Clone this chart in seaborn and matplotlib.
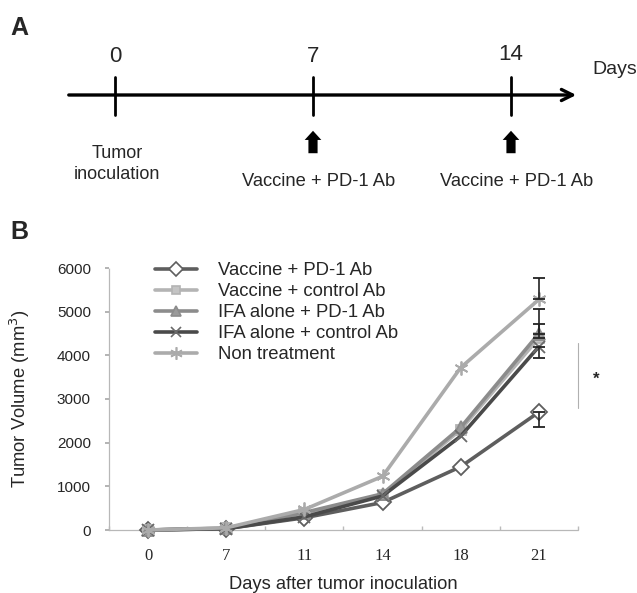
import numpy as np
import pandas as pd
import matplotlib
matplotlib.use("Agg")
import matplotlib.pyplot as plt
from matplotlib.lines import Line2D
import seaborn as sns

sns.set_theme(style="white")
plt.rcParams['font.family'] = ['Liberation Sans', 'DejaVu Sans']

# ---------------- data ----------------
days = [0, 7, 11, 14, 18, 21]
groups = ["Vaccine + PD-1 Ab", "Vaccine + control Ab", "IFA alone + PD-1 Ab",
          "IFA alone + control Ab", "Non treatment"]
vac_pd1 = [0, 30, 280, 630, 1450, 2700]
vac_ctrl = [0, 40, 380, 800, 2300, 4400]
ifa_pd1 = [0, 40, 400, 830, 2350, 4500]
ifa_ctrl = [0, 30, 300, 780, 2150, 4200]
non_treat = [0, 50, 470, 1230, 3720, 5280]
# error bars at day 21 (one-sided, as drawn): (down, up)
err21_down = [340, 0, 0, 270, 0]
err21_up = [0, 320, 560, 0, 490]
timeline_days = [0, 7, 14]

series = [vac_pd1, vac_ctrl, ifa_pd1, ifa_ctrl, non_treat]
rows = []
for g, vals in zip(groups, series):
    for i, (d, v) in enumerate(zip(days, vals)):
        rows.append({"group": g, "pos": i, "day": d, "volume": v})
df = pd.DataFrame(rows)

styles = {
    "Vaccine + PD-1 Ab": dict(color="#5e5e5e", marker="D", mfc="white", mec="#5e5e5e", ms=8),
    "Vaccine + control Ab": dict(color="#b4b4b4", marker="s", mfc="#c4c4c4", mec="#b4b4b4", ms=7),
    "IFA alone + PD-1 Ab": dict(color="#8c8c8c", marker="^", mfc="#9a9a9a", mec="#8c8c8c", ms=8),
    "IFA alone + control Ab": dict(color="#4a4a4a", marker="x", mfc="#4a4a4a", mec="#6a6a6a", ms=8),
    "Non treatment": dict(color="#ababab", marker=(6, 2, 0), mfc="#ababab", mec="#ababab", ms=10),
}

fig = plt.figure(figsize=(6.37, 5.93), dpi=100)

# ---------------- panel A ----------------
axA = fig.add_axes([0, 0, 1, 1], zorder=0)
axA.set_xlim(0, 637)
axA.set_ylim(593, 0)
axA.axis("off")
x0, xstep = 115, 198 / 7.0
axA.annotate("", xy=(579, 95), xytext=(66, 95),
             arrowprops=dict(arrowstyle="->", lw=2.4, color="black", mutation_scale=20))
for d in timeline_days:
    xp = x0 + d * xstep
    axA.plot([xp, xp], [77, 115], color="black", lw=2)
    axA.text(xp, 67 if d < 10 else 65, str(d), ha="center", va="bottom", fontsize=16)
axA.text(592, 70, "Days", ha="left", va="center", fontsize=14)
axA.text(x0 + 2, 164, "Tumor\ninoculation", ha="center", va="center", fontsize=13, linespacing=1.25)
for d in timeline_days[1:]:
    xp = x0 + d * xstep
    axA.annotate("", xy=(xp, 128), xytext=(xp, 156),
                 arrowprops=dict(arrowstyle="simple,head_length=0.55,head_width=1.0,tail_width=0.55",
                                 color="black", lw=0))
    axA.text(xp + 6, 181, "Vaccine + PD-1 Ab", ha="center", va="center", fontsize=13.2)
axA.text(10, 28, "A", ha="left", va="center", fontsize=18, fontweight="bold")
axA.text(10, 232, "B", ha="left", va="center", fontsize=18, fontweight="bold")

# ---------------- panel B ----------------
ax = fig.add_axes([109 / 637, 1 - 530 / 593, (578 - 109) / 637, (530 - 268) / 593], zorder=1)
ax.patch.set_alpha(0)
for g in groups:
    st = styles[g]
    sub = df[df.group == g]
    sns.lineplot(data=sub, x="pos", y="volume", ax=ax, color=st["color"], lw=2.6,
                 marker=st["marker"], markerfacecolor=st["mfc"], markeredgecolor=st["mec"],
                 markersize=st["ms"], markeredgewidth=1.3, label=g, legend=False,
                 zorder=3, clip_on=False)
for i, g in enumerate(groups):
    lo, hi = err21_down[i], err21_up[i]
    if lo == 0 and hi == 0:
        continue
    yv = series[i][-1]
    ax.errorbar([len(days) - 1], [yv], yerr=[[lo], [hi]], fmt="none", ecolor="#222222",
                elinewidth=1.2, capsize=4, capthick=1.3, zorder=4)

ax.set_xlim(-0.5, len(days) - 0.5)
ax.set_ylim(0, 6000)
ax.set_yticks(np.arange(0, 6001, 1000))
ax.set_xticks(range(len(days)))
ax.set_xticklabels([str(d) for d in days], fontsize=12, family="Liberation Serif")
ax.set_xticks(np.arange(-0.5, len(days)), minor=True)
ax.tick_params(axis="y", labelsize=11, length=3, color="#aaaaaa", pad=10, left=True)
ax.tick_params(axis="x", which="major", length=0, pad=13)
ax.tick_params(axis="x", which="minor", length=3, color="#bbbbbb", direction="in", bottom=True)
ax.set_xlabel("Days after tumor inoculation", fontsize=13.2)
ax.xaxis.set_label_coords(0.5, -0.175)
ax.set_ylabel("Tumor Volume (mm$^3$)", fontsize=13.2)
ax.yaxis.set_label_coords(-0.165, 0.5)
for side in ["top", "right"]:
    ax.spines[side].set_visible(False)
for side in ["left", "bottom"]:
    ax.spines[side].set_color("#b8b8b8")
    ax.spines[side].set_linewidth(0.9)
    ax.spines[side].set_linestyle((0, (1, 1)))
ax.grid(False)

handles = []
for g in groups:
    st = styles[g]
    handles.append(Line2D([0], [0], color=st["color"], lw=2.6, marker=st["marker"],
                          markerfacecolor=st["mfc"], markeredgecolor=st["mec"],
                          markersize=st["ms"] - 1, markeredgewidth=1.2))
ax.legend(handles, groups, loc="upper left", bbox_to_anchor=(155 / 637, 1 - 262 / 593),
          bbox_transform=fig.transFigure, frameon=False, fontsize=13.3, handlelength=2.3,
          handletextpad=1.1, labelspacing=0.22, borderaxespad=0, borderpad=0)

# significance bracket
ax.plot([5.5, 5.5], [2790, 4280], color="#b0b0b0", lw=0.8, clip_on=False)
ax.text(5.73, 3450, "*", ha="center", va="center", fontsize=12, fontweight="bold")

fig.savefig("out.png", dpi=100)
